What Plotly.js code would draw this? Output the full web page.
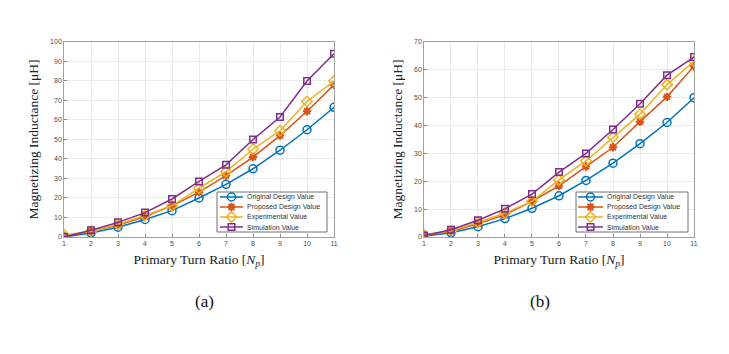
<!DOCTYPE html>
<html>
<head>
<meta charset="utf-8">
<script src="https://cdn.plot.ly/plotly-3.0.1.min.js"></script>
<style>html,body{margin:0;padding:0;background:#fff;}#chart{width:729px;height:354px;}</style>
</head>
<body>
<div id="chart"></div>
<script>
const turnRatio = [1, 2, 3, 4, 5, 6, 7, 8, 9, 10, 11];
const seriesNames = ["Original Design Value", "Proposed Design Value", "Experimental Value", "Simulation Value"];

// (a)
const origA = [0, 2, 5, 9, 13.5, 20, 27, 35, 44.5, 55, 66.5];
const propA = [0, 3, 6, 10.5, 16, 23, 31.5, 41, 52, 64.5, 78];
const expA  = [1, 3, 6.5, 11, 16, 25, 33.5, 45, 54.5, 69.5, 80];
const simA  = [0, 3.5, 7.5, 12.5, 19.5, 28.5, 37, 50, 61.5, 80, 94];

// (b)
const origB = [0.3, 1.5, 3.7, 6.6, 10.3, 14.8, 20.3, 26.5, 33.5, 41.1, 50];
const propB = [0.5, 2, 4.7, 8, 12.8, 18.4, 25.3, 32.2, 41.4, 50.3, 61.3];
const expB  = [0.8, 2.2, 5.2, 8.6, 12.8, 20.5, 27.3, 35.8, 44.1, 54.7, 63.1];
const simB  = [0.5, 2.6, 6, 10.1, 15.4, 23.3, 30, 38.6, 47.8, 58.1, 64.6];

const colors = ["#0072BD", "#D95319", "#EDB120", "#7E2F8E"];
const symbols = ["circle-open", "asterisk-open", "diamond-open", "square-open"];
const msizes = [8, 7, 8, 6.5];

function mk(y, i, xa, ya) {
  return {
    x: turnRatio, y: y, type: "scatter", mode: "lines+markers",
    name: seriesNames[i], xaxis: xa, yaxis: ya, showlegend: false,
    line: {color: colors[i], width: 1.5},
    marker: {symbol: symbols[i], size: msizes[i], color: colors[i],
             line: {color: colors[i], width: i === 1 ? 2 : 1.5}}
  };
}

const data = [
  mk(origA, 0, "x", "y"), mk(propA, 1, "x", "y"), mk(expA, 2, "x", "y"), mk(simA, 3, "x", "y"),
  mk(origB, 0, "x2", "y2"), mk(propB, 1, "x2", "y2"), mk(expB, 2, "x2", "y2"), mk(simB, 3, "x2", "y2")
];

// Custom compact legends, drawn on a hidden pixel-space overlay axis (x3/y3)
const legendBoxes = [{x0: 217, x1: 327, lineX0: 220, lineX1: 243, textX: 245},
                     {x0: 576, x1: 688, lineX0: 578, lineX1: 603, textX: 605}];
const legY0 = 192, legY1 = 232, rowY = [197, 207, 217, 227];
const annotations = [];
legendBoxes.forEach(b => {
  data.push({x: [b.x0, b.x1, b.x1, b.x0, b.x0], y: [legY0, legY0, legY1, legY1, legY0],
    xaxis: "x3", yaxis: "y3", type: "scatter", mode: "lines", fill: "toself", fillcolor: "#fff",
    line: {color: "#4d4d4d", width: 0.8}, showlegend: false, hoverinfo: "skip"});
  seriesNames.forEach((nm, i) => {
    const mid = (b.lineX0 + b.lineX1) / 2;
    data.push({x: [b.lineX0, b.lineX1], y: [rowY[i], rowY[i]], xaxis: "x3", yaxis: "y3",
      type: "scatter", mode: "lines", line: {color: colors[i], width: 1.5}, showlegend: false, hoverinfo: "skip"});
    data.push({x: [mid], y: [rowY[i]], xaxis: "x3", yaxis: "y3", type: "scatter", mode: "markers",
      marker: {symbol: symbols[i], size: msizes[i], color: colors[i], line: {color: colors[i], width: i === 1 ? 2 : 1.5}},
      showlegend: false, hoverinfo: "skip"});
    annotations.push({text: nm, x: b.textX, y: rowY[i], xref: "x3", yref: "y3", xanchor: "left", yanchor: "middle",
      showarrow: false, font: {family: "Liberation Sans, Arial", size: 7, color: "#333"}});
  });
});

const tickFont = {family: "Liberation Sans, Arial", size: 7, color: "#4d4d4d"};
const titleFont = {family: "Liberation Serif, Times New Roman", size: 13.5, color: "#222"};
const xTitle = "Primary Turn Ratio [<i>N</i><sub><i>p</i></sub>]";
const yTitle = "Magnetizing Inductance [μH]";

function xax(dom, anchor) {
  return {domain: dom, anchor: anchor, range: [1, 11], tickvals: turnRatio, showgrid: true, gridcolor: "#e3e3e3", gridwidth: 0.7,
    zeroline: false, showline: true, mirror: true, linecolor: "#8a8a8a", linewidth: 0.8,
    ticks: "inside", ticklen: 3, tickcolor: "#8a8a8a", tickfont: tickFont,
    title: {text: xTitle, font: titleFont, standoff: 8}};
}
function yax(dom, max, anchor) {
  return {domain: dom, range: [0, max], dtick: 10, anchor: anchor, showgrid: true, gridcolor: "#e3e3e3", gridwidth: 0.7,
    zeroline: false, showline: true, mirror: true, linecolor: "#8a8a8a", linewidth: 0.8,
    ticks: "inside", ticklen: 3, tickcolor: "#8a8a8a", tickfont: tickFont,
    title: {text: yTitle, font: titleFont, standoff: 8}};
}

annotations.push(
  {text: "(a)", x: 193/729, y: (354-313)/354, xref: "paper", yref: "paper", showarrow: false,
   font: {family: "Liberation Serif, Times New Roman", size: 17, color: "#111"}},
  {text: "(b)", x: 552/729, y: (354-313)/354, xref: "paper", yref: "paper", showarrow: false,
   font: {family: "Liberation Serif, Times New Roman", size: 17, color: "#111"}}
);

const layout = {
  width: 729, height: 354, margin: {l: 0, r: 0, t: 0, b: 0},
  paper_bgcolor: "#fff", plot_bgcolor: "rgba(0,0,0,0)", showlegend: false,
  xaxis: xax([0.0878, 0.4582], "y"),
  yaxis: yax([0.3305, 0.8814], 100, "x"),
  xaxis2: xax([0.5816, 0.952], "y2"),
  yaxis2: yax([0.3305, 0.8814], 70, "x2"),
  xaxis3: {domain: [0, 1], range: [0, 729], visible: false, anchor: "y3", fixedrange: true},
  yaxis3: {domain: [0, 1], range: [354, 0], visible: false, anchor: "x3", fixedrange: true},
  annotations: annotations
};

Plotly.newPlot("chart", data, layout, {displayModeBar: false, staticPlot: true});
</script>
</body>
</html>
